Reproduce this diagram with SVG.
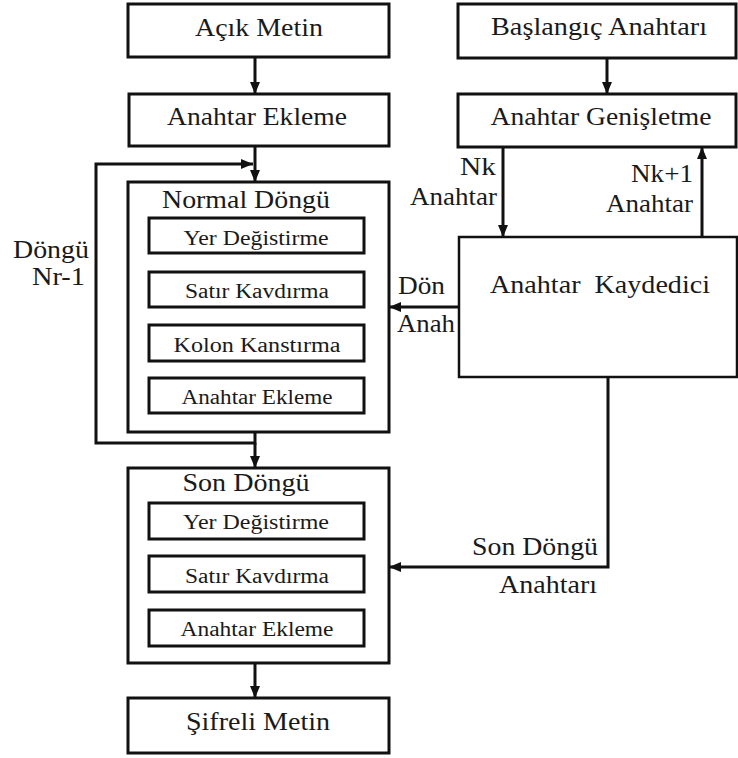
<svg xmlns="http://www.w3.org/2000/svg" width="738" height="758" viewBox="0 0 738 758" font-family="'Liberation Serif', 'DejaVu Serif', serif">
  <style>
    .box { fill: #ffffff; stroke: #111111; stroke-width: 3; }
    .thin { fill: #ffffff; stroke: #111111; stroke-width: 2.5; }
    .line { fill: none; stroke: #111111; stroke-width: 3; }
    text { font-family: 'Liberation Serif', 'DejaVu Serif', serif; fill: #1a1a1a; }
    .t { font-size: 25px; }
    .s { font-size: 20px; }
    .c { text-anchor: middle; }
    .r { text-anchor: end; }
  </style>
  <defs>
    <marker id="arrow" viewBox="0 0 12 10" refX="12" refY="5" markerWidth="12" markerHeight="10" markerUnits="userSpaceOnUse" orient="auto">
      <path d="M0,0 L12,5 L0,10 Z" fill="#111111"/>
    </marker>
  </defs>
  <rect width="738" height="758" fill="#ffffff"/>

  <!-- connectors -->
  <g id="connectors">
    <line class="line" x1="255" y1="57" x2="255" y2="94" marker-end="url(#arrow)"/>
    <line class="line" x1="255" y1="146" x2="255" y2="182" marker-end="url(#arrow)"/>
    <path class="line" d="M255,432 L255,443 L96,443 L96,164 L253,164" marker-end="url(#arrow)"/>
    <line class="line" x1="255" y1="443" x2="255" y2="468" marker-end="url(#arrow)"/>
    <line class="line" x1="255" y1="663" x2="255" y2="698" marker-end="url(#arrow)"/>
    <line class="line" x1="607" y1="58" x2="607" y2="94" marker-end="url(#arrow)"/>
    <line class="line" x1="503" y1="147" x2="503" y2="237" marker-end="url(#arrow)"/>
    <line class="line" x1="702" y1="237" x2="702" y2="147" marker-end="url(#arrow)"/>
    <line class="line" x1="459" y1="307" x2="389" y2="307" marker-end="url(#arrow)"/>
    <path class="line" d="M608,377 L608,567 L389,567" marker-end="url(#arrow)"/>
  </g>

  <!-- connector labels -->
  <g id="labels">
    <text class="t r" x="496" y="175" textLength="36" lengthAdjust="spacingAndGlyphs">Nk</text>
    <text class="t r" x="497" y="205" textLength="87" lengthAdjust="spacingAndGlyphs">Anahtar</text>
    <text class="t r" x="693" y="182" textLength="62" lengthAdjust="spacingAndGlyphs">Nk+1</text>
    <text class="t r" x="693" y="212" textLength="87" lengthAdjust="spacingAndGlyphs">Anahtar</text>
    <text class="t" x="398" y="294" textLength="47" lengthAdjust="spacingAndGlyphs">Dön</text>
    <text class="t" x="397" y="332" textLength="58" lengthAdjust="spacingAndGlyphs">Anah</text>
    <text class="t r" x="89" y="258" textLength="76" lengthAdjust="spacingAndGlyphs">Döngü</text>
    <text class="t r" x="85" y="285" textLength="53" lengthAdjust="spacingAndGlyphs">Nr-1</text>
    <text class="t" x="472" y="555" textLength="126" lengthAdjust="spacingAndGlyphs">Son Döngü</text>
    <text class="t" x="499" y="593" textLength="98" lengthAdjust="spacingAndGlyphs">Anahtarı</text>
  </g>

  <g id="acik-metin">
    <rect class="box" x="128" y="4" width="261" height="53"/>
    <text class="t c" x="259" y="36" textLength="128" lengthAdjust="spacingAndGlyphs">Açık Metin</text>
  </g>
  <g id="anahtar-ekleme-ilk">
    <rect class="box" x="129" y="94" width="260" height="52"/>
    <text class="t c" x="257" y="125" textLength="180" lengthAdjust="spacingAndGlyphs">Anahtar Ekleme</text>
  </g>

  <g id="normal-dongu">
    <rect class="box" x="128" y="182" width="261" height="250"/>
    <text class="t c" x="246" y="208" textLength="168" lengthAdjust="spacingAndGlyphs">Normal Döngü</text>
    <rect class="box" x="149" y="218" width="215" height="35"/>
    <text class="s c" x="256" y="245" textLength="145" lengthAdjust="spacingAndGlyphs">Yer Değistirme</text>
    <rect class="box" x="149" y="272" width="215" height="35"/>
    <text class="s c" x="257" y="298" textLength="144" lengthAdjust="spacingAndGlyphs">Satır Kavdırma</text>
    <rect class="box" x="149" y="325" width="215" height="36"/>
    <text class="s c" x="257" y="352" textLength="167" lengthAdjust="spacingAndGlyphs">Kolon Kanstırma</text>
    <rect class="box" x="149" y="378" width="215" height="35"/>
    <text class="s c" x="257" y="404" textLength="151" lengthAdjust="spacingAndGlyphs">Anahtar Ekleme</text>
  </g>

  <g id="son-dongu">
    <rect class="box" x="128" y="468" width="261" height="195"/>
    <text class="t c" x="246" y="491" textLength="127" lengthAdjust="spacingAndGlyphs">Son Döngü</text>
    <rect class="box" x="149" y="503" width="215" height="36"/>
    <text class="s c" x="256" y="529" textLength="146" lengthAdjust="spacingAndGlyphs">Yer Değistirme</text>
    <rect class="box" x="149" y="556" width="215" height="36"/>
    <text class="s c" x="257" y="583" textLength="144" lengthAdjust="spacingAndGlyphs">Satır Kavdırma</text>
    <rect class="box" x="149" y="610" width="215" height="36"/>
    <text class="s c" x="257" y="636" textLength="153" lengthAdjust="spacingAndGlyphs">Anahtar Ekleme</text>
  </g>

  <g id="sifreli-metin">
    <rect class="box" x="128" y="698" width="261" height="55"/>
    <text class="t c" x="258" y="730" textLength="144" lengthAdjust="spacingAndGlyphs">Şifreli Metin</text>
  </g>

  <g id="baslangic-anahtari">
    <rect class="box" x="458" y="4" width="278" height="54"/>
    <text class="t c" x="599" y="35" textLength="216" lengthAdjust="spacingAndGlyphs">Başlangıç Anahtarı</text>
  </g>
  <g id="anahtar-genisletme">
    <rect class="box" x="458" y="94" width="278" height="53"/>
    <text class="t c" x="601" y="125" textLength="221" lengthAdjust="spacingAndGlyphs">Anahtar Genişletme</text>
  </g>
  <g id="anahtar-kaydedici">
    <rect class="thin" x="459" y="237" width="278" height="140"/>
    <text class="t" x="490" y="293" textLength="220" lengthAdjust="spacingAndGlyphs" xml:space="preserve">Anahtar  Kaydedici</text>
  </g>
</svg>
